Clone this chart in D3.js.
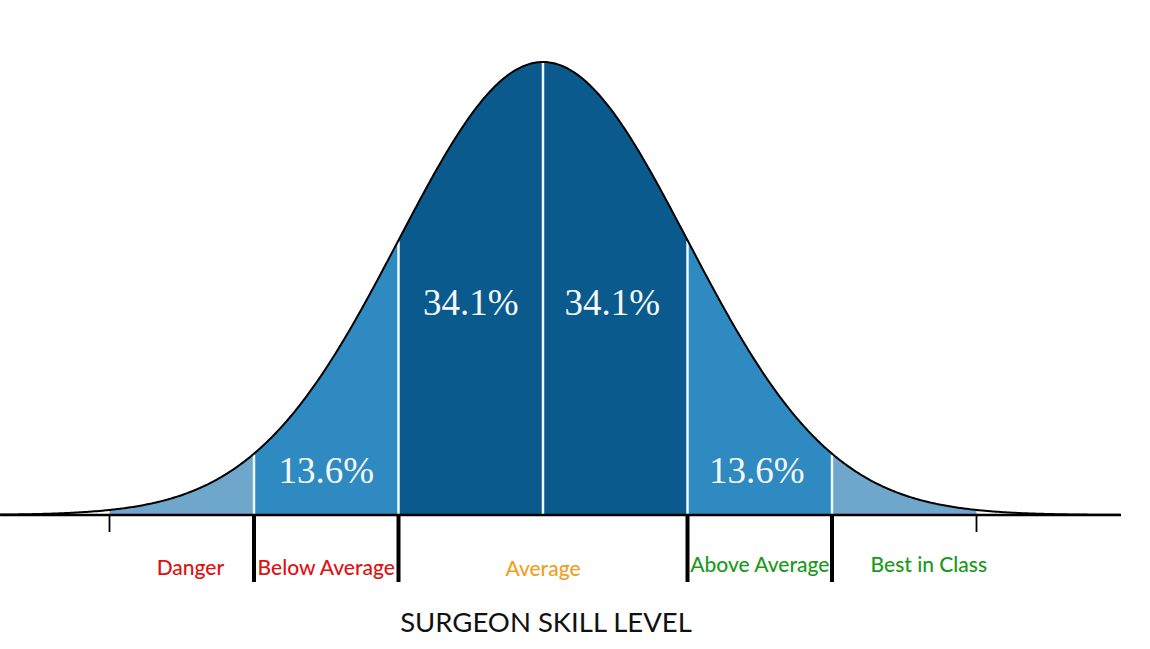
<!DOCTYPE html>
<html><head><meta charset="utf-8">
<script src="https://cdn.jsdelivr.net/npm/d3@7"></script>
<style>body{margin:0;background:#fff}svg{display:block}</style>
</head><body>
<svg id="c" width="1150" height="649"></svg>
<script>
// Data
const sigmaBounds = [-3, -2, -1, 0, 1, 2, 3];
const bandPercents = ["", "13.6%", "34.1%", "34.1%", "13.6%", ""];
const bandColors = ["#6fa6cc", "#2e8ac0", "#0a5a8e", "#0a5a8e", "#2e8ac0", "#6fa6cc"];
const thickTicks = [-2, -1, 1, 2];
const thinTicks = [-3, 3];
const categoryNames = ["Danger", "Below Average", "Average", "Above Average", "Best in Class"];
const categoryPos = [-2.44, -1.5, 0, 1.5, 2.67];
const categoryColors = ["#e01010", "#e01010", "#f0a020", "#1a9a1a", "#1a9a1a"];
const axisTitle = "SURGEON SKILL LEVEL";
const zDomain = [-3.757, 4.0];

const svg = d3.select("#c");
const x = d3.scaleLinear().domain([0, 1]).range([543, 687.5]);
const pdf = z => Math.exp(-z * z / 2) / Math.sqrt(2 * Math.PI);
const y = d3.scaleLinear().domain([0, pdf(0)]).range([515, 62]);

const curvePts = d3.range(zDomain[0], zDomain[1] + 1e-9, 0.01).map(z => [z, pdf(z)]);
const area = d3.area().x(d => x(d[0])).y0(y(0)).y1(d => y(d[1]));
const line = d3.line().x(d => x(d[0])).y(d => y(d[1]));

// bands
for (let i = 0; i < sigmaBounds.length - 1; i++) {
  const a = sigmaBounds[i], b = sigmaBounds[i + 1];
  const pts = d3.range(a, b + 1e-9, 0.01).map(z => [z, pdf(z)]);
  if (pts[pts.length - 1][0] < b) pts.push([b, pdf(b)]);
  svg.append("path").attr("d", area(pts)).attr("fill", bandColors[i]);
}
// white dividers
[-2, -1, 0, 1, 2].forEach(z => {
  svg.append("line").attr("x1", x(z)).attr("x2", x(z))
    .attr("y1", y(pdf(z)) + 1).attr("y2", y(0))
    .attr("stroke", "#eef7fb").attr("stroke-width", 2.5);
});
// curve
svg.append("path").attr("d", line(curvePts)).attr("fill", "none")
  .attr("stroke", "#000").attr("stroke-width", 2);
// baseline
svg.append("line").attr("x1", x(zDomain[0])).attr("x2", x(zDomain[1]))
  .attr("y1", y(0)).attr("y2", y(0)).attr("stroke", "#000").attr("stroke-width", 2.5);
// ticks
thickTicks.forEach(z => svg.append("line").attr("x1", x(z)).attr("x2", x(z))
  .attr("y1", y(0)).attr("y2", 582).attr("stroke", "#000").attr("stroke-width", 4));
thinTicks.forEach(z => svg.append("line").attr("x1", x(z)).attr("x2", x(z))
  .attr("y1", y(0)).attr("y2", 532).attr("stroke", "#000").attr("stroke-width", 1.8));
// percent labels
const pctY = {"13.6%": 483, "34.1%": 315};
bandPercents.forEach((p, i) => {
  if (!p) return;
  const mid = (sigmaBounds[i] + sigmaBounds[i + 1]) / 2;
  svg.append("text").attr("x", x(mid) + (mid < 0 ? 0 : -3))
    .attr("y", pctY[p]).attr("text-anchor", "middle")
    .attr("font-family", "'Liberation Serif', 'Times New Roman', serif")
    .attr("font-size", 37).attr("fill", "#f4f8fa").text(p);
});
// category labels
const catY = [575, 575, 576, 572, 572];
categoryNames.forEach((n, i) => {
  svg.append("text").attr("x", x(categoryPos[i])).attr("y", catY[i])
    .attr("text-anchor", "middle").attr("font-family", "Lato, 'Open Sans', sans-serif")
    .attr("font-size", 21).attr("font-weight", 500)
    .attr("fill", categoryColors[i]).text(n);
});
// title
svg.append("text").attr("x", 546).attr("y", 632).attr("text-anchor", "middle")
  .attr("font-family", "Lato, 'Open Sans', sans-serif").attr("font-size", 27.5)
  .attr("fill", "#111").text(axisTitle);
</script>
</body></html>
